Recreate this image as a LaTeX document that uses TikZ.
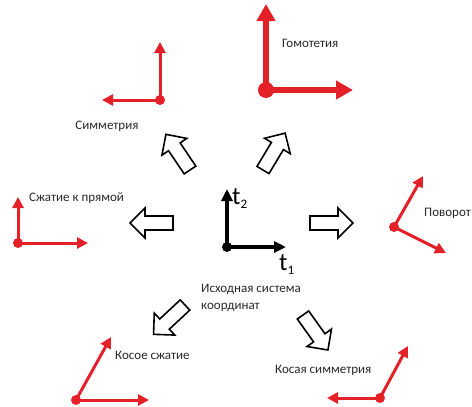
\documentclass[tikz,border=0pt]{standalone}
\usepackage{fontspec}
\setmainfont{Carlito}
\usetikzlibrary{arrows.meta}
\definecolor{vred}{RGB}{228,32,40}
\definecolor{txt}{RGB}{40,40,40}
\newcommand\blockarr[2]{\draw[blockline, shift={(#1)}, rotate=#2] (0,7)--(28,7)--(28,15)--(43,0)--(28,-15)--(28,-7)--(0,-7)--cycle;}
\begin{document}
\begin{tikzpicture}[x=1pt,y=-1pt,
  lbl/.style={font=\fontsize{13}{17}\selectfont, text=txt, inner sep=0pt},
  redvec/.style={vred, line width=3pt, -{Triangle[length=11pt,width=11pt]}},
  bigvec/.style={vred, line width=6pt, -{Triangle[length=17pt,width=18pt]}},
  reddot/.style={circle, fill=vred, inner sep=0pt, minimum size=10pt},
  blkvec/.style={black, line width=3.5pt, -{Triangle[length=12pt,width=11pt]}},
  blockline/.style={black, line width=1.6pt, line join=miter, fill=white},
]
\useasboundingbox (0,0) rectangle (472,407);

% central frame
\node[circle, fill=black, inner sep=0pt, minimum size=10pt] (o0) at (227,247) {};
\coordinate (o0y) at (227,189);
\coordinate (o0x) at (286,247);
\draw[blkvec] (o0.center) -- (o0y);
\draw[blkvec] (o0.center) -- (o0x);
\node[font=\fontsize{25}{25}\selectfont, inner sep=0pt, anchor=base west] (t2) at (232,204) {t\raisebox{-0.35ex}{\fontsize{13}{13}\selectfont 2}};
\node[font=\fontsize{25}{25}\selectfont, inner sep=0pt, anchor=base west] (t1) at (279,270) {t\raisebox{-0.35ex}{\fontsize{13}{13}\selectfont 1}};
\node[lbl, anchor=west, align=left] (src) at (201,298) {Исходная система\\координат};

% block arrows
\blockarr{190,170}{124}
\blockarr{263,170}{59}
\blockarr{173,223}{180}
\blockarr{310,223}{0}
\blockarr{185,305}{223}
\blockarr{303,315}{-54.5}

% Homothety
\coordinate (h1) at (266,4);
\coordinate (h2) at (353,90);
\draw[bigvec] (266,90) -- (h1);
\draw[bigvec] (266,90) -- (h2);
\node[circle, fill=vred, inner sep=0pt, minimum size=16pt] (oh) at (266,90) {};
\node[lbl, anchor=west] (lh) at (282,43) {Гомотетия};

% Symmetry
\node[reddot] (os) at (160,100) {};
\coordinate (s1) at (160,42);
\coordinate (s2) at (102,100);
\draw[redvec] (os.center) -- (s1);
\draw[redvec] (os.center) -- (s2);
\node[lbl] (ls) at (107,126) {Симметрия};

% Compression to a line
\node[reddot] (oc) at (18,243) {};
\coordinate (c1) at (18,197);
\coordinate (c2) at (88,243);
\draw[redvec] (oc.center) -- (c1);
\draw[redvec] (oc.center) -- (c2);
\node[lbl, anchor=west] (lc) at (29,198) {Сжатие к прямой};

% Rotation
\node[reddot] (or) at (394,227) {};
\coordinate (r1) at (423,176);
\coordinate (r2) at (446,253);
\draw[redvec] (or.center) -- (r1);
\draw[redvec] (or.center) -- (r2);
\node[lbl, anchor=west] (lr) at (424,213) {Поворот};

% Oblique compression
\node[reddot] (ok) at (76,400) {};
\coordinate (k1) at (111,337);
\coordinate (k2) at (149,400);
\draw[redvec] (ok.center) -- (k1);
\draw[redvec] (ok.center) -- (k2);
\node[lbl, anchor=west] (lk) at (115,355) {Косое сжатие};

% Oblique symmetry
\node[reddot] (oq) at (380,398) {};
\coordinate (q1) at (408,346);
\coordinate (q2) at (327,398);
\draw[redvec] (oq.center) -- (q1);
\draw[redvec] (oq.center) -- (q2);
\node[lbl, anchor=west] (lq) at (275,370) {Косая симметрия};
\end{tikzpicture}
\end{document}
